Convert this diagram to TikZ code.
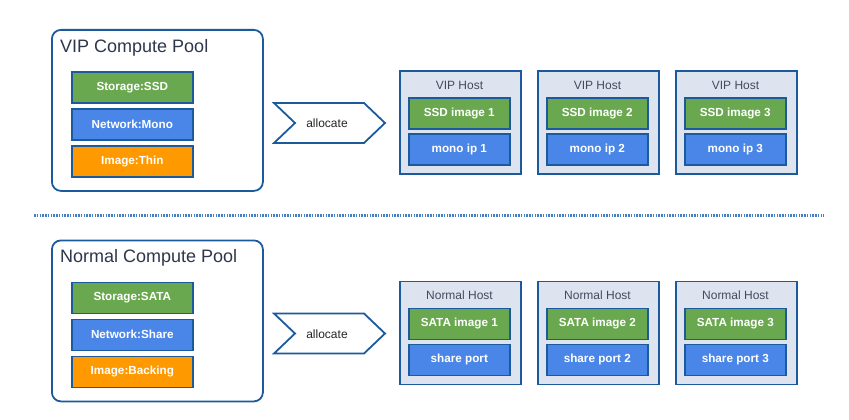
\documentclass[tikz,border=0pt]{standalone}
\usepackage{fontspec}
\setmainfont{Liberation Sans}
\definecolor{edgeblue}{RGB}{28,90,158}
\definecolor{boxgreen}{RGB}{106,168,79}
\definecolor{boxblue}{RGB}{74,134,232}
\definecolor{boxorange}{RGB}{255,153,0}
\definecolor{hostfill}{RGB}{221,228,239}
\definecolor{dotblue}{RGB}{70,125,195}
\definecolor{titlegray}{RGB}{45,55,75}
\begin{document}
\begin{tikzpicture}[x=1pt,y=-1pt,
  pool/.style={draw=edgeblue,line width=1.8pt,rounded corners=9pt,fill=white,anchor=north west,minimum width=211pt,minimum height=161pt,inner sep=0pt},
  pooltitle/.style={anchor=west,inner sep=0pt,text=titlegray,font=\fontsize{18}{20}\selectfont},
  item/.style={draw=edgeblue,line width=1.6pt,anchor=north west,text=white,inner sep=0pt,font=\fontsize{11.7}{13}\selectfont\bfseries},
  poolitem/.style={item,minimum width=121pt,minimum height=31pt},
  hostitem/.style={item,minimum width=101pt,minimum height=31pt},
  host/.style={draw=edgeblue,line width=1.6pt,fill=hostfill,anchor=north west,minimum width=121pt,minimum height=103pt,inner sep=0pt},
  hosttitle/.style={inner sep=0pt,text=titlegray!90,font=\fontsize{12}{14}\selectfont},
  arrowbox/.style={draw=edgeblue,line width=1.8pt,fill=white},
  alloctext/.style={inner sep=0pt,text=black!85,font=\fontsize{12}{14}\selectfont},
  sep/.style={draw=dotblue,line width=2.2pt,dash pattern=on 1.6pt off 1.15pt}
]
\useasboundingbox (0,0) rectangle (849,420);

% ---- VIP section ----
\node[pool] (vpool) at (51,29) {};
\node[pooltitle] (vtitle) at (60,47.5) {VIP Compute Pool};
\node[poolitem,fill=boxgreen] (vstor) at (71,71) {Storage:SSD};
\node[poolitem,fill=boxblue] (vnet) at (71,108) {Network:Mono};
\node[poolitem,fill=boxorange] (vimg) at (71,145) {Image:Thin};

\path[arrowbox] (274,103) -- (364,103) -- (385,123) -- (364,143) -- (274,143) -- (295,123) -- cycle;
\node[alloctext] (valloc) at (327,123.5) {allocate};

\foreach \i/\x in {1/399,2/537,3/675}{
  \node[host] (vh\i) at (\x,70) {};
  \node[hosttitle] (vht\i) at (\x+60.5,85) {VIP Host};
  \node[hostitem,fill=boxgreen] (vhs\i) at (\x+9,97) {SSD image \i};
  \node[hostitem,fill=boxblue] (vhn\i) at (\x+9,133) {mono ip \i};
}

% ---- separator ----
\coordinate (sepL) at (34,215.5);
\coordinate (sepR) at (824,215.5);
\draw[sep] (sepL) -- (sepR);

% ---- Normal section ----
\node[pool] (npool) at (51,239.5) {};
\node[pooltitle] (ntitle) at (60,258) {Normal Compute Pool};
\node[poolitem,fill=boxgreen] (nstor) at (71,281.5) {Storage:SATA};
\node[poolitem,fill=boxblue] (nnet) at (71,318.5) {Network:Share};
\node[poolitem,fill=boxorange] (nimg) at (71,355.5) {Image:Backing};

\path[arrowbox] (274,313.5) -- (364,313.5) -- (385,333.5) -- (364,353.5) -- (274,353.5) -- (295,333.5) -- cycle;
\node[alloctext] (nalloc) at (327,334) {allocate};

\foreach \i/\x/\p in {1/399/share port,2/537/share port 2,3/675/share port 3}{
  \node[host] (nh\i) at (\x,280.5) {};
  \node[hosttitle] (nht\i) at (\x+60.5,295.5) {Normal Host};
  \node[hostitem,fill=boxgreen] (nhs\i) at (\x+9,307.5) {SATA image \i};
  \node[hostitem,fill=boxblue] (nhn\i) at (\x+9,343.5) {\p};
}
\end{tikzpicture}
\end{document}
